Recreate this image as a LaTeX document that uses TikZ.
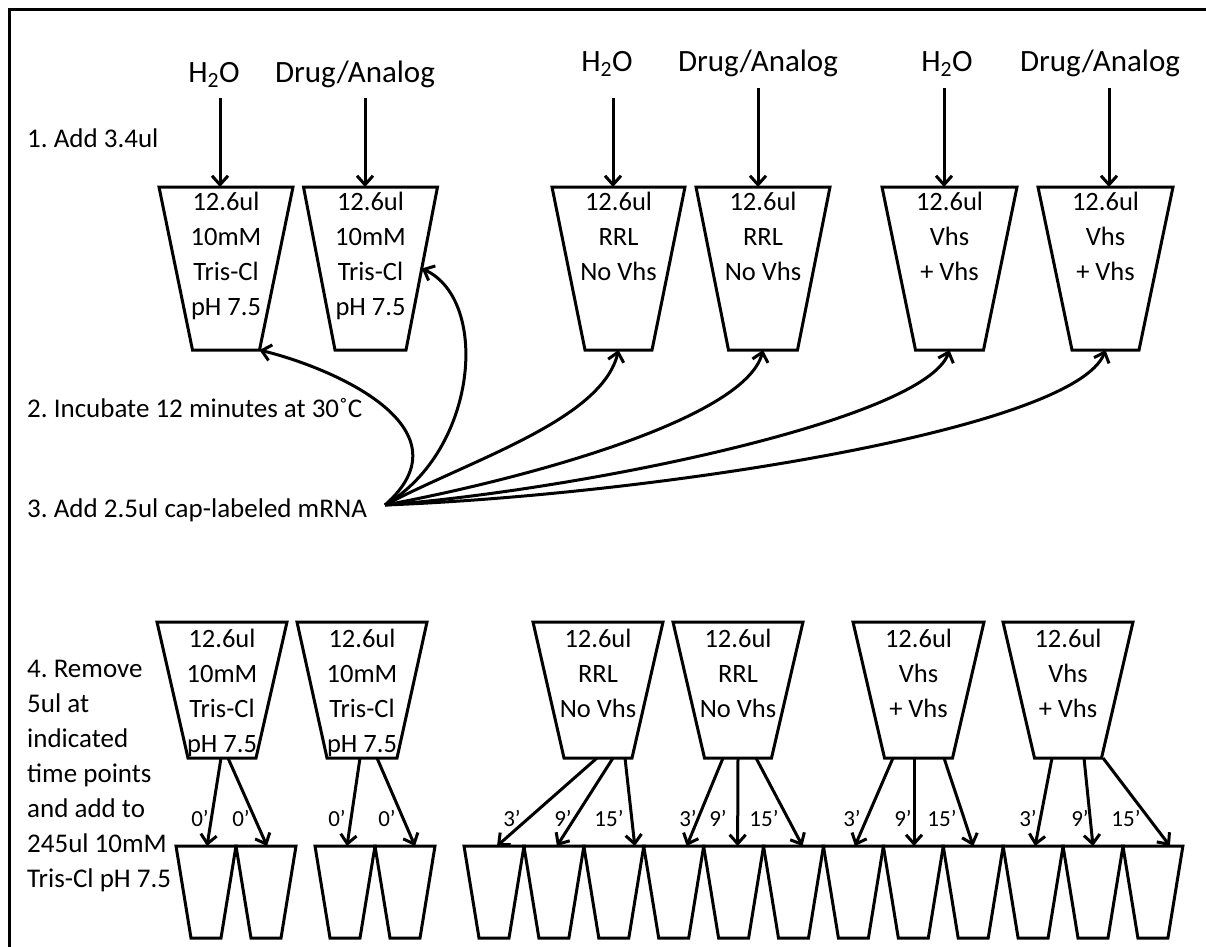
\documentclass[tikz,border=0pt]{standalone}
\usepackage{fontspec}
\setmainfont{Carlito}
\usetikzlibrary{arrows.meta,calc}
\frenchspacing

% Tube outline: #1 name, #2 centre x, #3 top y, #4 half top width,
% #5 half bottom width, #6 height
\newcommand{\tubeshape}[6]{%
  \coordinate (#1-tl) at ({#2-#4},{#3});
  \coordinate (#1-tr) at ({#2+#4},{#3});
  \coordinate (#1-br) at ({#2+#5},{#3+#6});
  \coordinate (#1-bl) at ({#2-#5},{#3+#6});
  \coordinate (#1-t) at ({#2},{#3});
  \coordinate (#1-b) at ({#2},{#3+#6});
  \draw[tubeline] (#1-tl) -- (#1-tr) -- (#1-br) -- (#1-bl) -- cycle;
}

\begin{document}
\begin{tikzpicture}[x=1pt,y=-1pt,
  tubeline/.style={line width=3pt, line join=miter},
  flow/.style={line width=3pt, -{Straight Barb[length=9pt,width=16pt]}},
  tubetext/.style={anchor=north, inner sep=0pt, align=center,
                   font=\fontsize{26.5}{35}\selectfont},
  steptext/.style={anchor=base west, inner sep=0pt,
                   font=\fontsize{27}{35}\selectfont},
  reagent/.style={anchor=base, inner sep=0pt,
                  font=\fontsize{31}{37}\selectfont},
  timetext/.style={anchor=base, inner sep=0pt,
                   font=\fontsize{23}{28}\selectfont}]
\clip (0,0) rectangle (1206,946);
\fill[white] (0,0) rectangle (1206,946);

% outer frame
\draw[line width=3pt] (9,9) rectangle (1240,980);

% ---------- step labels ----------
\node[steptext] (s1) at (27,147) {1. Add 3.4ul};
\node[steptext] (s2) at (27,417) {2. Incubate 12 minutes at 30˚C};
\node[steptext] (s3) at (27,517) {3. Add 2.5ul cap-labeled mRNA};
\node[steptext, anchor=north west, align=left] (s4) at (27,660)
  {4. Remove\\5ul at\\indicated\\time points\\and add to\\245ul 10mM\\Tris-Cl pH 7.5};

% ---------- upper tubes ----------
\tubeshape{T1}{226}{187}{67}{33.5}{163}
\tubeshape{T2}{370.5}{187}{67}{35.5}{163}
\tubeshape{T3}{618.5}{187}{66.5}{33.5}{163}
\tubeshape{T4}{763}{187}{67}{34.5}{163}
\tubeshape{T5}{949.5}{187}{67.5}{34}{163}
\tubeshape{T6}{1105.5}{187}{67.5}{33.5}{163}

\node[tubetext] (T1-txt) at (226,192) {12.6ul\\10mM\\Tris-Cl\\pH 7.5};
\node[tubetext] (T2-txt) at (370.5,192) {12.6ul\\10mM\\Tris-Cl\\pH 7.5};
\node[tubetext] (T3-txt) at (618.5,192) {12.6ul\\RRL\\No Vhs};
\node[tubetext] (T4-txt) at (763,192) {12.6ul\\RRL\\No Vhs};
\node[tubetext] (T5-txt) at (949.5,192) {12.6ul\\Vhs\\+ Vhs};
\node[tubetext] (T6-txt) at (1105.5,192) {12.6ul\\Vhs\\+ Vhs};

% reagents added in step 1
\node[reagent] (r1) at (214,82) {H\textsubscript{2}O};
\node[reagent] (r2) at (355,82) {Drug/Analog};
\node[reagent] (r3) at (607,71) {H\textsubscript{2}O};
\node[reagent] (r4) at (758,71) {Drug/Analog};
\node[reagent] (r5) at (947,71) {H\textsubscript{2}O};
\node[reagent] (r6) at (1100,71) {Drug/Analog};

\coordinate (a1) at (220,98);
\coordinate (a2) at (365,98);
\coordinate (a3) at (613,98);
\coordinate (a4) at (758,88);
\coordinate (a5) at (944,88);
\coordinate (a6) at (1109,88);
\foreach \k in {1,...,6}
  \draw[flow] (a\k) -- (a\k |- T\k-t);

% ---------- mRNA added in step 3 ----------
\coordinate (src) at (385,505);
\draw[flow] (src) .. controls (470,430) and (340,370) .. (T1-br);
\draw[flow] (src) .. controls (478,450) and (490,300) .. ($(T2-tr)!0.5!(T2-br)$);
\draw[flow] (src) .. controls (470,460) and (602,420) .. (T3-b);
\draw[flow] (src) .. controls (520,480) and (745,420) .. (T4-b);
\draw[flow] (src) .. controls (580,490) and (925,420) .. (T5-b);
\draw[flow] (src) .. controls (650,495) and (1075,430) .. (T6-b);

% ---------- lower tubes ----------
\tubeshape{B1}{222}{622}{65}{34}{136}
\tubeshape{B2}{362}{622}{65}{35}{136}
\tubeshape{B3}{598}{622}{65}{34}{136}
\tubeshape{B4}{738}{622}{65}{33.5}{136}
\tubeshape{B5}{918.5}{622}{65.5}{34}{136}
\tubeshape{B6}{1068}{622}{65}{33.5}{136}

\node[tubetext] (B1-txt) at (222,629) {12.6ul\\10mM\\Tris-Cl\\pH 7.5};
\node[tubetext] (B2-txt) at (362,629) {12.6ul\\10mM\\Tris-Cl\\pH 7.5};
\node[tubetext] (B3-txt) at (598,629) {12.6ul\\RRL\\No Vhs};
\node[tubetext] (B4-txt) at (738,629) {12.6ul\\RRL\\No Vhs};
\node[tubetext] (B5-txt) at (918.5,629) {12.6ul\\Vhs\\+ Vhs};
\node[tubetext] (B6-txt) at (1068,629) {12.6ul\\Vhs\\+ Vhs};

% ---------- collection tubes ----------
\foreach \c [count=\i] in {206,266,345,405,494,553.9,613.8,673.7,733.6,793.5,
                            853.4,913.3,973.2,1033.1,1093,1152.9}
  {\tubeshape{q\i}{\c}{846}{30}{15}{92}}

% ---------- sampling arrows ----------
\draw[flow] ($(B1-b)+(-1,0)$) -- ($(q1-t)+(1,0)$);
\draw[flow] ($(B1-b)+(6,0)$) -- ($(q2-t)+(1,0)$);
\draw[flow] ($(B2-b)+(-2,0)$) -- ($(q3-t)+(2,0)$);
\draw[flow] ($(B2-b)+(15,0)$) -- ($(q4-t)+(10,0)$);

\draw[flow] ($(B3-b)+(-1,0)$) -- ($(q5-t)+(3,0)$);
\draw[flow] ($(B3-b)+(15,0)$) -- ($(q6-t)+(3,0)$);
\draw[flow] ($(B3-b)+(27,0)$) -- ($(q7-t)+(21,0)$);
\draw[flow] ($(B4-b)+(-15,0)$) -- ($(q8-t)+(13,0)$);
\draw[flow] ($(B4-b)+(0,0)$) -- ($(q9-t)+(4,0)$);
\draw[flow] ($(B4-b)+(18,0)$) -- ($(q10-t)+(9,0)$);
\draw[flow] ($(B5-b)+(-25.5,0)$) -- ($(q11-t)+(1.5,0)$);
\draw[flow] ($(B5-b)+(-4.5,0)$) -- ($(q12-t)+(0.7,0)$);
\draw[flow] ($(B5-b)+(25.5,0)$) -- ($(q13-t)+(0,0)$);
\draw[flow] ($(B6-b)+(-16,0)$) -- ($(q14-t)+(2,0)$);
\draw[flow] ($(B6-b)+(16,0)$) -- ($(q15-t)+(0,0)$);
\draw[flow] ($(B6-b)+(35,0)$) -- ($(q16-t)+(17,0)$);

% time points
\node[timetext] (m1) at (200,826) {0’};
\node[timetext] (m2) at (241,826) {0’};
\node[timetext] (m3) at (337,826) {0’};
\node[timetext] (m4) at (387,826) {0’};
\node[timetext] (m5) at (512,826) {3’};
\node[timetext] (m6) at (563,826) {9’};
\node[timetext] (m7) at (609,826) {15’};
\node[timetext] (m8) at (688,826) {3’};
\node[timetext] (m9) at (718,826) {9’};
\node[timetext] (m10) at (764,826) {15’};
\node[timetext] (m11) at (852,826) {3’};
\node[timetext] (m12) at (903,826) {9’};
\node[timetext] (m13) at (942,826) {15’};
\node[timetext] (m14) at (1028,826) {3’};
\node[timetext] (m15) at (1080,826) {9’};
\node[timetext] (m16) at (1126,826) {15’};
\end{tikzpicture}
\end{document}
